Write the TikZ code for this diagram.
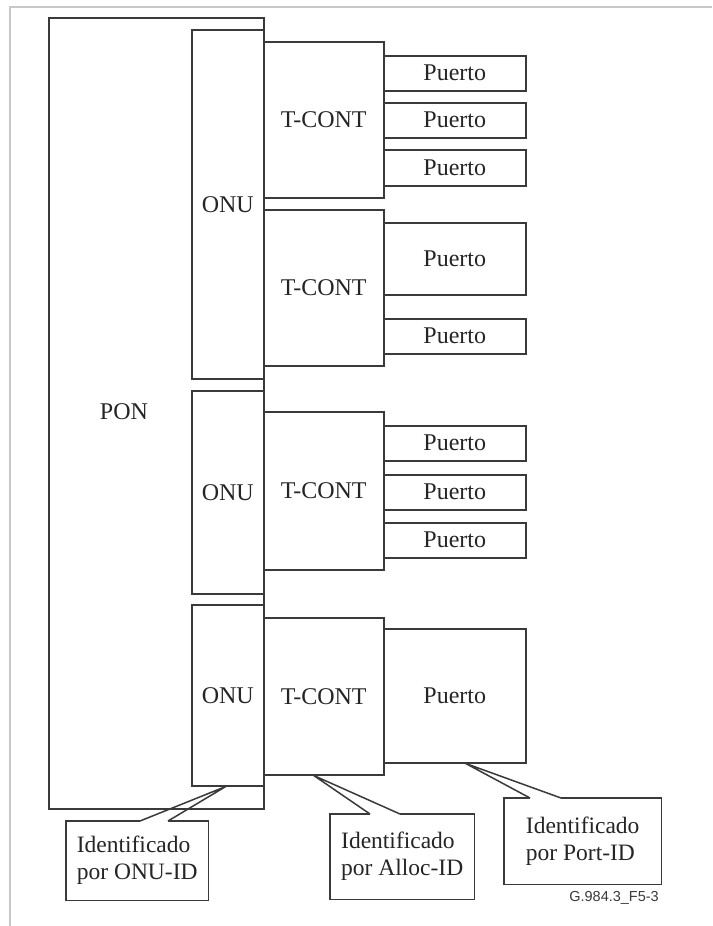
\documentclass[tikz,border=0pt]{standalone}
\usepackage{fontspec}
\setmainfont{Liberation Serif}
\newfontfamily\tagfont{Liberation Sans}
\usetikzlibrary{calc}
\definecolor{linec}{HTML}{3A3A3A}
\definecolor{textc}{HTML}{252525}
\definecolor{framec}{HTML}{C8C8C8}
\newcommand\mybox[6]{\node[box, minimum width={((#4)-(#2))*1pt}, minimum height={((#5)-(#3))*1pt}] (#1) at (#2,#3) {#6};}
\begin{document}
\begin{tikzpicture}[x=1pt,y=-1pt,
  box/.style={draw=linec, line width=1.5pt, rectangle, inner sep=0pt, anchor=north west,
    font=\fontsize{24}{28}\selectfont, text=textc},
  lbl/.style={font=\fontsize{24}{28}\selectfont, text=textc, inner sep=0pt},
  calltxt/.style={font=\fontsize{23.5}{27}\selectfont, text=textc, align=left, inner sep=0pt},
  callline/.style={draw=linec, line width=1.5pt, line join=miter}]
\useasboundingbox (0,0) rectangle (712,926);
\fill[white] (0,0) rectangle (712,926);
% outer frame
\draw[framec, line width=1.6pt] (10,926) -- (10,7) -- (712,7);

% PON
\mybox{PON}{48}{17}{263}{808}{}
\node[lbl] (PONl) at (124,412) {PON};

% first ONU
\mybox{ONU1}{191}{29}{263}{378}{ONU}
\mybox{TC1}{263}{41}{383}{197}{T-CONT}
\mybox{P1}{383}{55}{525}{90}{Puerto}
\mybox{P2}{383}{102}{525}{137}{Puerto}
\mybox{P3}{383}{149}{525}{185}{Puerto}
\mybox{TC2}{263}{209}{383}{365}{T-CONT}
\mybox{P4}{383}{222}{525}{294}{Puerto}
\mybox{P5}{383}{318}{525}{353}{Puerto}

% second ONU
\mybox{ONU2}{191}{390}{263}{593}{ONU}
\mybox{TC3}{263}{411}{383}{569}{T-CONT}
\mybox{P6}{383}{425}{525}{460}{Puerto}
\mybox{P7}{383}{474}{525}{509}{Puerto}
\mybox{P8}{383}{522}{525}{557}{Puerto}

% third ONU
\mybox{ONU3}{191}{604}{263}{785}{ONU}
\mybox{TC4}{263}{617}{383}{774}{T-CONT}
\mybox{P9}{383}{628}{525}{762}{Puerto}

% callouts
\node[draw=none, minimum width=142pt, minimum height=79pt, anchor=north west, inner sep=0pt] (C1) at (66,821) {};
\node[calltxt] (C1t) at (C1.center) {Identificado\\por ONU-ID};
\coordinate (C1a) at (140,821);
\coordinate (C1b) at (168,821);
\coordinate (T1) at ($(ONU3.south)+(-2,0)$);
\draw[callline] (C1a) -- (C1.north west) -- (C1.south west) -- (C1.south east) -- (C1.north east) -- (C1b);
\draw[callline] (C1a) -- (T1) -- (C1b);

\node[draw=none, minimum width=144pt, minimum height=85pt, anchor=north west, inner sep=0pt] (C2) at (330,814) {};
\node[calltxt] (C2t) at (C2.center) {Identificado\\por Alloc-ID};
\coordinate (C2a) at (370,814);
\coordinate (C2b) at (400,814);
\coordinate (T2) at ($(TC4.south)+(-10,0)$);
\draw[callline] (C2a) -- (C2.north west) -- (C2.south west) -- (C2.south east) -- (C2.north east) -- (C2b);
\draw[callline] (C2a) -- (T2) -- (C2b);

\node[draw=none, minimum width=157pt, minimum height=86pt, anchor=north west, inner sep=0pt] (C3) at (504,798) {};
\node[calltxt] (C3t) at (C3.center) {Identificado\\por Port-ID};
\coordinate (C3a) at (530,798);
\coordinate (C3b) at (561,798);
\coordinate (T3) at ($(P9.south)+(11,0)$);
\draw[callline] (C3a) -- (C3.north west) -- (C3.south west) -- (C3.south east) -- (C3.north east) -- (C3b);
\draw[callline] (C3a) -- (T3) -- (C3b);

% figure tag
\node[anchor=east, inner sep=0pt, font=\tagfont\fontsize{14.5}{16}\selectfont, text=linec] (tag) at (659,898) {G.984.3\_F5-3};
\end{tikzpicture}
\end{document}
